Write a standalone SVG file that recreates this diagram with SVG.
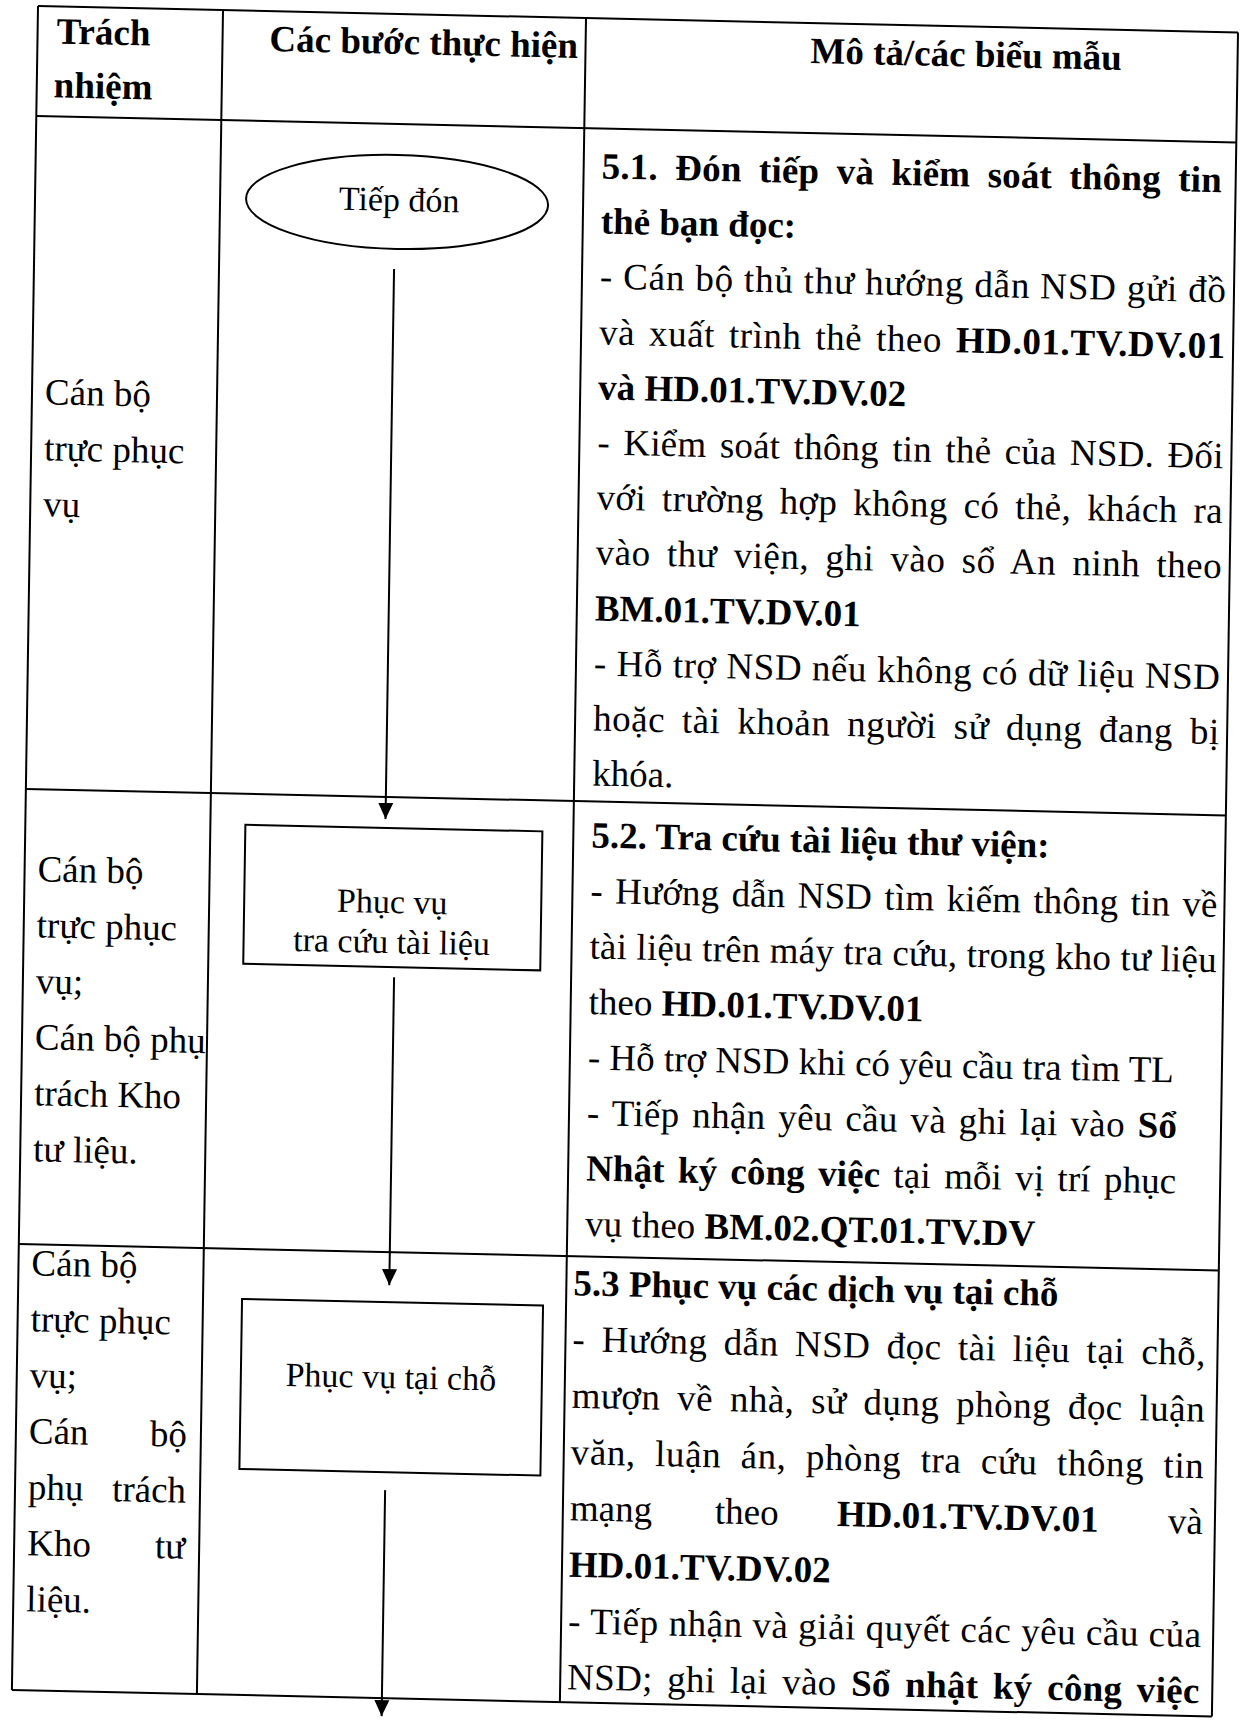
<svg xmlns="http://www.w3.org/2000/svg" width="1252" height="1720" viewBox="0 0 1252 1720">
<defs>
<style>
text{font-family:"Liberation Serif","Times New Roman",serif;font-size:37px;fill:#000}
.b{font-weight:bold}
.n{font-size:34px}
.grid line{stroke:#000;stroke-width:2}
.shape{fill:none;stroke:#000;stroke-width:2}
.conn line{stroke:#000;stroke-width:2}
</style>
<marker id="ah" markerUnits="userSpaceOnUse" markerWidth="16" markerHeight="16" refX="16" refY="8" orient="auto"><path d="M0,0.5 L16,8 L0,15.5 z" fill="#000"/></marker>
</defs>
<rect width="1252" height="1720" fill="#fff"/>
<g transform="matrix(1 0.022 -0.0155 1 38 6)">
<g id="table" class="grid">
<line x1="0" y1="0" x2="1200" y2="0"/>
<line x1="0" y1="0" x2="0" y2="1684"/>
<line x1="1200" y1="0" x2="1200" y2="1684"/>
<line x1="0" y1="1684" x2="1200" y2="1684"/>
<line x1="185" y1="0" x2="185" y2="1684"/>
<line x1="548" y1="0" x2="548" y2="1684"/>
<line x1="0" y1="110" x2="1200" y2="110"/>
<line x1="0" y1="783" x2="1200" y2="783"/>
<line x1="0" y1="1238" x2="1200" y2="1238"/>
</g>
<g id="header">
<text class="b" x="19" y="37">Trách</text>
<text class="b" x="17" y="91">nhiệm</text>
<text class="b" x="232" y="40">Các bước thực hiện</text>
<text class="b" x="773" y="40">Mô tả/các biểu mẫu</text>
</g>
<g id="responsibility">
<text x="13" y="398">Cán bộ</text>
<text x="13" y="454">trực phục</text>
<text x="13" y="510">vụ</text>
<text x="13" y="875">Cán bộ</text>
<text x="13" y="931">trực phục</text>
<text x="13" y="987">vụ;</text>
<text x="13" y="1043">Cán bộ phụ</text>
<text x="13" y="1099">trách Kho</text>
<text x="13" y="1155">tư liệu.</text>
<text x="13" y="1269">Cán bộ</text>
<text x="13" y="1325">trực phục</text>
<text x="13" y="1381">vụ;</text>
<text x="13" y="1437">Cán</text><text x="171" y="1437" text-anchor="end">bộ</text>
<text x="13" y="1493">phụ</text><text x="171" y="1493" text-anchor="end">trách</text>
<text x="13" y="1549">Kho</text><text x="171" y="1549" text-anchor="end">tư</text>
<text x="13" y="1605">liệu.</text>
</g>
<g id="connectors" class="conn">
<line x1="360" y1="255" x2="360" y2="805" marker-end="url(#ah)"/>
<line x1="371" y1="963" x2="371" y2="1271" marker-end="url(#ah)"/>
<line x1="370" y1="1476" x2="370" y2="1702" marker-end="url(#ah)"/>
</g>
<g id="node-tiep-don">
<ellipse class="shape" cx="362" cy="188" rx="151" ry="47"/>
<text class="n" x="364" y="197" text-anchor="middle">Tiếp đón</text>
</g>
<g id="node-phuc-vu-tra-cuu">
<rect class="shape" x="220" y="814" width="297" height="139"/>
<text class="n" x="368" y="899" text-anchor="middle">Phục vụ</text>
<text class="n" x="368" y="939" text-anchor="middle">tra cứu tài liệu</text>
</g>
<g id="node-phuc-vu-tai-cho">
<rect class="shape" x="224" y="1288" width="301" height="170"/>
<text class="n" x="374" y="1374" text-anchor="middle">Phục vụ tại chỗ</text>
</g>
<g id="desc-5-1">
<text class="b" x="566" y="160" textLength="620" lengthAdjust="spacing" word-spacing="8">5.1. Đón tiếp và kiểm soát thông tin</text>
<text class="b" x="566" y="215">thẻ bạn đọc:</text>
<text x="566" y="270" textLength="626" lengthAdjust="spacing">- Cán bộ thủ thư hướng dẫn NSD gửi đồ</text>
<text x="566" y="326" textLength="626" lengthAdjust="spacing" word-spacing="4">và xuất trình thẻ theo <tspan class="b">HD.01.TV.DV.01</tspan></text>
<text class="b" x="566" y="381">và HD.01.TV.DV.02</text>
<text x="566" y="436" textLength="626" lengthAdjust="spacing" word-spacing="4">- Kiểm soát thông tin thẻ của NSD. Đối</text>
<text x="566" y="491" textLength="626" lengthAdjust="spacing" word-spacing="6">với trường hợp không có thẻ, khách ra</text>
<text x="566" y="546" textLength="626" lengthAdjust="spacing" word-spacing="6.5">vào thư viện, ghi vào sổ An ninh theo</text>
<text class="b" x="566" y="602">BM.01.TV.DV.01</text>
<text x="566" y="657" textLength="626" lengthAdjust="spacing">- Hỗ trợ NSD nếu không có dữ liệu NSD</text>
<text x="566" y="712" textLength="626" lengthAdjust="spacing" word-spacing="7">hoặc tài khoản người sử dụng đang bị</text>
<text x="566" y="767">khóa.</text>
</g>
<g id="desc-5-2">
<text class="b" x="566" y="829">5.2. Tra cứu tài liệu thư viện:</text>
<text x="566" y="884.5" textLength="627" lengthAdjust="spacing" word-spacing="3">- Hướng dẫn NSD tìm kiếm thông tin về</text>
<text x="566" y="940" textLength="627" lengthAdjust="spacing">tài liệu trên máy tra cứu, trong kho tư liệu</text>
<text x="566" y="995.5">theo <tspan class="b">HD.01.TV.DV.01</tspan></text>
<text x="566" y="1051">- Hỗ trợ NSD khi có yêu cầu tra tìm TL</text>
<text x="566" y="1106.5" textLength="590" lengthAdjust="spacing" word-spacing="3">- Tiếp nhận yêu cầu và ghi lại vào <tspan class="b">Sổ</tspan></text>
<text x="566" y="1162" textLength="590" lengthAdjust="spacing" word-spacing="4"><tspan class="b">Nhật ký công việc</tspan> tại mỗi vị trí phục</text>
<text x="566" y="1217.5">vụ theo <tspan class="b">BM.02.QT.01.TV.DV</tspan></text>
</g>
<g id="desc-5-3">
<text class="b" x="555" y="1277">5.3 Phục vụ các dịch vụ tại chỗ</text>
<text x="555" y="1333" textLength="633" lengthAdjust="spacing" word-spacing="6.5">- Hướng dẫn NSD đọc tài liệu tại chỗ,</text>
<text x="555" y="1389.5" textLength="633" lengthAdjust="spacing" word-spacing="7">mượn về nhà, sử dụng phòng đọc luận</text>
<text x="555" y="1446" textLength="633" lengthAdjust="spacing" word-spacing="9.5">văn, luận án, phòng tra cứu thông tin</text>
<text x="555" y="1502">mạng</text><text x="700" y="1502">theo</text><text class="b" x="822" y="1502">HD.01.TV.DV.01</text><text x="1188" y="1502" text-anchor="end">và</text>
<text class="b" x="555" y="1558.5">HD.01.TV.DV.02</text>
<text x="555" y="1615" textLength="633" lengthAdjust="spacing">- Tiếp nhận và giải quyết các yêu cầu của</text>
<text x="555" y="1671" textLength="632" lengthAdjust="spacing" word-spacing="5">NSD; ghi lại vào <tspan class="b">Sổ nhật ký công việc</tspan></text>
</g>
</g>
</svg>
